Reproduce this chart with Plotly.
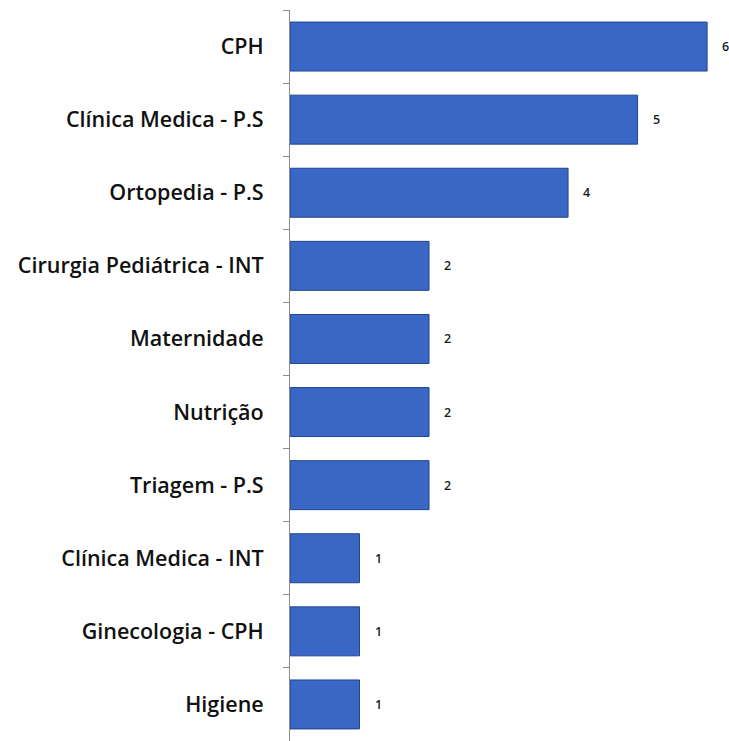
import plotly.graph_objects as go

categories = ["CPH", "Clínica Medica - P.S", "Ortopedia - P.S", "Cirurgia Pediátrica - INT",
              "Maternidade", "Nutrição", "Triagem - P.S", "Clínica Medica - INT",
              "Ginecologia - CPH", "Higiene"]
values = [6, 5, 4, 2, 2, 2, 2, 1, 1, 1]

fig = go.Figure()
fig.add_trace(go.Bar(
    y=categories, x=values, orientation="h",
    marker=dict(color="#3A66C6", line=dict(color="#22458C", width=1)),
    hoverinfo="x+y",
))

for c, v in zip(categories, values):
    fig.add_annotation(x=v, y=c, text=str(v), showarrow=False, xanchor="left",
                       xshift=13, font=dict(family="Open Sans", size=12.5, color="#1a1a1a", weight=600))

fig.update_layout(
    width=729, height=741,
    margin=dict(l=290, r=8, t=10, b=0),
    paper_bgcolor="white", plot_bgcolor="white",
    bargap=0.33, showlegend=False,
    xaxis=dict(range=[0, 6.2], visible=False, fixedrange=True),
    yaxis=dict(autorange="reversed", showline=True, linecolor="#8c8c8c", linewidth=1,
               ticks="outside", ticklen=6, tickcolor="#8c8c8c", tickson="boundaries",
               ticklabelstandoff=21, showgrid=False,
               tickfont=dict(family="Open Sans", size=21.5, color="#111", weight=600)),
)

fig.write_html("out.html")
